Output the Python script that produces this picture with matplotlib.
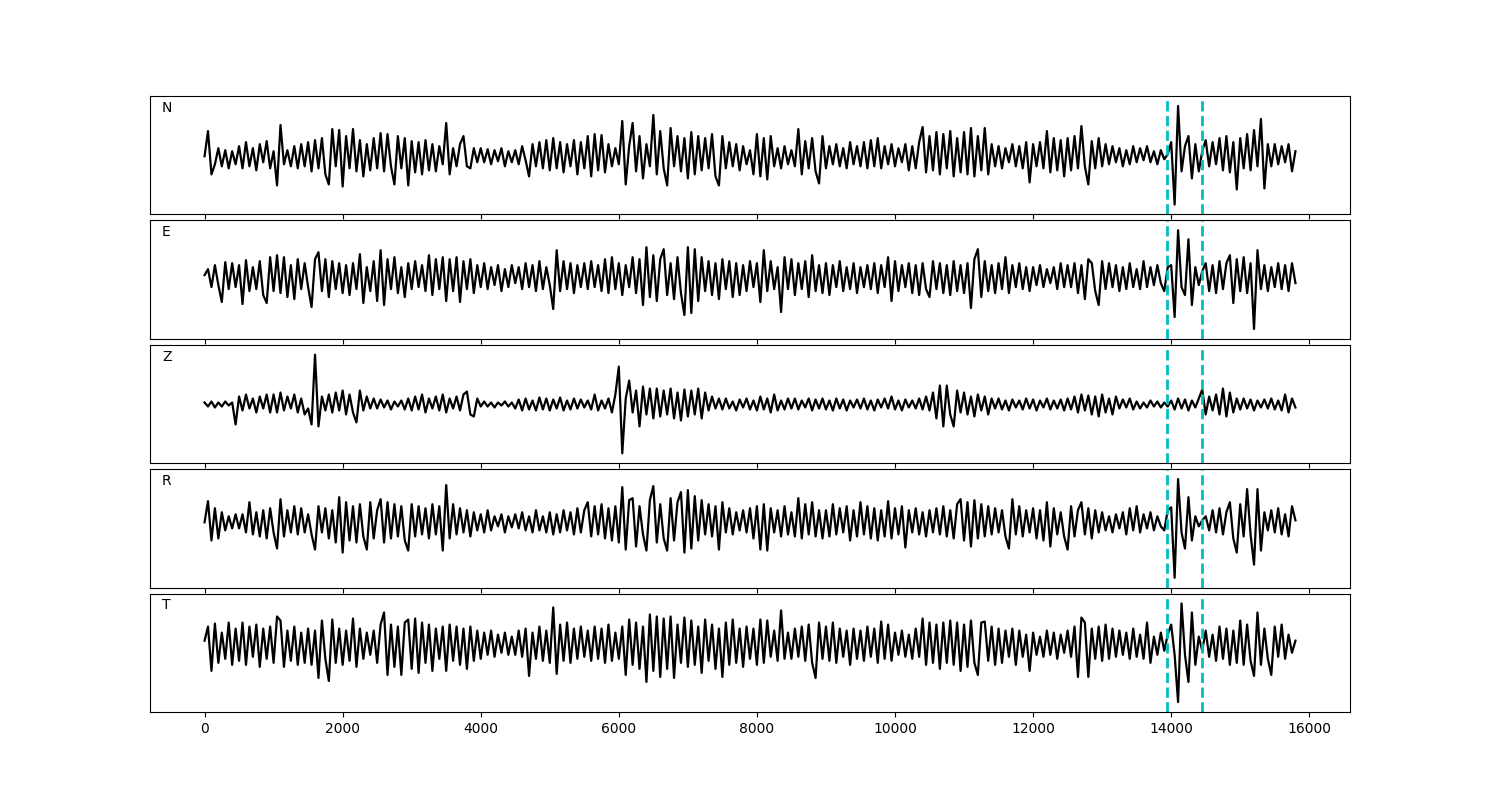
import numpy as np
import matplotlib
matplotlib.use("Agg")
import matplotlib.pyplot as plt

# sample spacing of the traces
dt = 50

# picked window (dashed lines)
picks = [13940, 14440]

labels = ["N", "E", "Z", "R", "T"]

n_vals = [
    0, 25, -18, -8, 8, -10, 6, -12, 5, -8,
    10, -12, 14, -10, 8, -14, 12, -6, 15, -12,
    5, -29, 31, -8, 6, -10, 10, -12, 12, -10,
    14, -15, 16, -12, 18, -18, -28, 27, -10, 26,
    -30, 20, -12, 27, -15, 16, -20, 12, -14, 18,
    -12, 23, -15, 22, -10, -28, 20, -12, 18, -29,
    15, -16, 14, -18, 16, -14, 12, -15, 10, -8,
    33, -18, 8, -10, 12, 20, -10, -12, 8, -6,
    8, -6, 7, -8, 6, -5, 8, -10, 5, -6,
    6, -8, 10, -4, -20, 12, -10, 14, -12, 16,
    -14, 18, -12, 14, -16, 12, -10, 16, -18, 14,
    -12, 20, -20, 22, -14, 21, -16, 12, -10, 8,
    -8, 35, -28, 10, 33, -15, 20, -22, 12, -10,
    41, -18, 25, -12, -29, 28, -10, 20, -15, 18,
    -22, 24, -18, 20, -14, 18, -12, 22, -20, -29,
    20, -12, 14, -10, 12, -14, 10, -8, 6, -18,
    22, -20, 18, -23, 20, -10, 8, -12, 10, -8,
    6, -10, 27, -18, 15, -12, 18, -15, -27, 20,
    -12, 10, -8, 12, -10, 8, -12, 14, -8, 10,
    -10, 14, -12, 16, -10, 18, -12, 10, -8, 12,
    -10, 8, -6, 12, -14, 10, -12, 14, 29, -16,
    20, -14, 24, -18, 22, -12, 25, -20, 18, -16,
    24, -18, 28, -20, 20, -14, 28, -18, 12, -10,
    10, -12, 8, -6, 12, -10, 10, -12, 14, -26,
    12, -10, 14, -12, 25, -16, 18, -14, 16, -20,
    18, -14, 20, -12, 30, -10, -28, 15, -12, 18,
    -10, 12, -8, 10, -6, 8, -10, 6, -8, 10,
    -6, 8, -4, 10, -6, 5, -8, 6, -3, 2,
    14, -48, 50, -15, 10, 20, -22, 12, -15, 5,
    16, -10, 14, -8, 18, -14, 20, -16, 14, -33,
    18, -12, 22, -14, 26, -10, 37, -32, 12, -10,
    12, -8, 10, -6, 12, -15, 5,
]

e_vals = [
    2, 8, -10, 12, -8, -25, 15, -12, 14, -10,
    12, -27, 17, -14, 10, -12, 16, -18, -26, 20,
    -14, 22, -16, 20, -20, 12, -22, 18, -12, 14,
    -10, -30, 18, 25, -14, 18, -20, 16, -12, 14,
    -16, 12, -18, 14, -12, 23, -26, 10, -14, 16,
    -24, 27, -28, 18, -12, 20, -16, 10, -20, 14,
    -12, 16, -10, 12, -14, 22, -18, 18, -12, 20,
    -24, 18, -14, 20, -25, 16, -12, 18, -16, 12,
    -10, 14, -12, 10, -8, 12, -14, 8, -10, 12,
    -6, 10, -12, 14, -10, 12, -14, 16, -12, 10,
    -8, -32, 27, -14, 16, -12, 14, -16, 12, -10,
    14, -12, 16, -10, 12, -14, 18, -16, 20, -12,
    14, -18, 12, -10, 20, -16, 18, -28, 30, -20,
    22, -24, 18, 28, -18, 14, -22, 20, -16, -38,
    30, -36, 28, -24, 20, -14, 16, -18, 14, -22,
    18, -12, 16, -20, 14, -18, 12, -14, 16, -10,
    14, -25, 27, -14, 16, -12, 10, -35, 20, -12,
    18, -18, 14, -12, 16, -20, 22, -14, 12, -16,
    14, -18, 12, -10, 16, -14, 10, -12, 14, -16,
    10, -10, 12, -12, 14, -16, 12, -10, 20, -24,
    16, -14, 12, -10, 14, -16, 12, -18, 14, -12,
    -20, 16, -12, 14, -16, 12, -18, 16, -14, 12,
    -16, 14, -31, 18, 28, -20, 16, -14, 12, -16,
    14, -12, 20, -16, 12, -10, 14, -12, 10, -14,
    10, -8, 12, -10, 8, -6, 10, -12, 14, -10,
    12, -10, 14, -16, 12, -22, 18, 14, -14, -28,
    16, -12, 14, -10, 12, -14, 10, -12, 14, -10,
    8, -12, 16, -10, 10, -8, 12, -6, -14, 10,
    12, -40, 47, -10, -18, 38, -28, 10, -8, 6,
    14, -14, 12, -16, 16, -12, 14, 22, -26, 18,
    -14, 20, -16, 14, -52, 27, -12, 12, -14, 10,
    -10, 14, -12, 12, -14, 14, -6,
]

z_vals = [
    2, -2, 3, -3, 2, -2, 3, -1, 2, -20,
    8, -6, 10, -4, 6, -8, 8, -4, 10, -8,
    10, -8, 12, -6, 8, -4, 10, -8, 6, -10,
    -4, -20, 50, -22, 8, -6, 10, -8, 12, -6,
    14, -10, 10, -8, -18, 14, -6, 8, -4, 6,
    -4, 5, -3, 4, -5, 3, -2, 4, -5, 6,
    -6, 8, -5, 10, -8, 6, -4, 8, -6, 10,
    -8, 6, -4, 8, -6, 10, 13, -10, -12, 6,
    -2, 3, -2, 2, -3, 2, -1, 3, -2, 2,
    -4, 5, -6, 6, -5, 4, -6, 7, -5, 6,
    -6, 5, -4, 7, -6, 4, -5, 6, -4, 5,
    -3, 4, -5, 10, -6, 4, -4, 6, -8, 10,
    38, -49, 6, 24, -8, 14, -22, 18, -10, 16,
    -14, 16, -12, 14, -10, 16, -14, 12, -16, 15,
    -12, 14, -10, 16, -14, 12, -6, 8, -4, 6,
    -5, 6, -4, 3, -6, 5, -3, 6, -5, 4,
    -6, 8, -5, 6, -8, 10, -6, 4, -5, 6,
    -4, 6, -5, 4, -3, 6, -6, 5, -4, 6,
    -5, 4, -6, 6, -4, 5, -6, 4, -3, 5,
    -4, 6, -5, 4, -6, 5, -3, 6, -4, 8,
    -5, 4, -6, 5, -3, 4, -4, 6, -5, 8,
    -6, 12, -14, 19, -22, 19, -10, -22, 14, -8,
    12, -10, 8, -12, 10, -6, 8, -10, 6, -4,
    6, -5, 4, -6, 5, -3, 4, -5, 6, -4,
    5, -6, 4, -3, 6, -5, 4, -4, 5, -6,
    6, -5, 8, -8, 10, -6, 9, -10, 8, -12,
    10, -8, 6, -10, 8, -4, 5, -3, 6, -5,
    3, -4, 2, -3, 4, -2, 3, -3, 2, -2,
    4, -5, 6, -4, 5, -6, 4, -3, 6, 15,
    -10, 8, -6, 10, -10, 16, -12, 12, -8, 6,
    -5, 6, -4, 5, -6, 4, -3, 5, -4, 6,
    -5, 4, -6, 10, -8, 6, -3,
]

r_vals = [
    0, 21, -18, 14, -16, 10, -8, 6, -6, 8,
    -6, 8, -10, 20, -12, 10, -14, 12, -16, 14,
    -10, -26, 23, -14, 12, -10, 16, -12, 14, -10,
    8, -12, -27, 16, -10, 14, -16, 12, -20, 25,
    -30, 20, -18, 16, -20, 18, -14, -27, 20, -16,
    12, 23, -20, 20, -16, 18, -14, 16, -18, -28,
    18, -14, 16, -12, 14, -16, 18, -12, 16, -28,
    37, -16, 18, -12, 14, -10, 12, -14, 10, -8,
    8, -10, 12, -8, 6, -4, 8, -10, 6, -5,
    8, -6, 10, -8, 6, -10, 12, -8, 6, -10,
    10, -12, 8, -10, 12, -8, 10, -12, 14, -10,
    12, 20, -14, 16, -12, 18, -16, 14, -18, 16,
    -20, 35, -27, 22, 24, -24, 16, -12, -28, 22,
    36, -20, 18, -16, -28, 24, -18, 20, 30, -30,
    32, -26, 26, -18, 22, -12, 18, -14, 16, -27,
    20, -10, 14, -12, 10, -8, 12, -10, 14, -16,
    16, -27, 18, -28, 14, -10, 12, -14, 16, -12,
    10, -14, 24, -16, 18, -12, 20, -14, 12, -16,
    12, -14, 18, -12, 14, -10, 16, -18, 12, -14,
    20, -12, 16, -16, 14, -18, 12, -14, 21, -16,
    14, -12, 16, -25, 12, -10, 14, -12, 10, -14,
    12, -10, 14, -12, 16, -14, 12, -16, 18, 23,
    -18, 20, -24, 22, -16, 18, -14, 16, -12, 14,
    -10, 12, -14, -26, 23, -12, 16, -14, 12, -10,
    14, -16, 12, -18, 20, -24, 14, -12, 10, -14,
    -27, 16, -14, 12, 20, -12, 14, -16, 12, -10,
    10, -8, 6, -10, 8, -6, 10, -12, 14, -8,
    16, -10, 8, -6, 10, -8, 6, -4, -8, 12,
    15, -55, 43, -10, -26, 25, -18, 6, -4, 2,
    6, -8, 12, -10, 14, -12, 10, 20, -16, -30,
    18, -14, 33, -12, -42, 33, -28, 10, -8, 12,
    -10, 14, -12, 8, -14, 16, 2,
]

t_vals = [
    4, 18, -26, 21, -18, 12, -14, 22, -20, 16,
    -16, 22, -20, 18, -12, 20, -22, 16, -14, 18,
    -18, 28, 24, -22, 14, -16, 18, -20, 12, -18,
    16, -20, 14, -33, 24, -14, -36, 25, -18, 16,
    -20, 14, -16, 26, -22, 16, -14, 12, -10, 14,
    -18, 20, 32, -30, 20, -22, 18, -30, 22, 25,
    -24, 26, -28, 22, -18, 20, -26, 16, -14, 18,
    -26, 20, -16, 18, -20, 16, -24, 18, -16, 14,
    -14, 12, -10, 14, -12, 10, -8, 12, -10, 8,
    -10, 14, -12, 16, -31, 12, -14, 18, -16, 14,
    -18, 37, -29, 20, -16, 22, -18, 16, -14, 18,
    -12, 14, -16, 18, -14, 16, -18, 20, -16, 12,
    -14, 18, -30, 25, -20, 22, -24, 18, -37, 30,
    -26, 28, -32, 26, -24, 28, -33, 20, -18, 27,
    -22, 24, -20, 18, -28, 25, -16, 20, -24, 16,
    -32, 22, -20, 25, -18, 16, -22, 18, -14, 16,
    -20, 25, -18, 24, -12, 14, -16, 34, -14, 12,
    -14, 16, -12, 18, -16, 20, -18, -33, 22, -14,
    18, -16, 22, -18, 16, -12, 14, -20, 16, -14,
    14, -16, 18, -12, 16, -18, 23, -14, 20, -16,
    12, -10, 14, -12, 10, -14, 16, -12, 26, -20,
    22, -18, 20, -24, 22, -18, 24, -20, 22, -26,
    20, -22, 24, -18, -30, 22, 23, -16, 18, -20,
    16, -18, 14, -12, 16, -20, 14, -12, 10, -26,
    12, -10, 8, -12, 14, -10, 12, -14, 10, -8,
    14, -12, 18, -32, 27, 22, -32, 16, -14, 18,
    -16, 20, -14, 16, -12, 14, -10, 12, -14, 16,
    -12, 10, -14, 22, -18, 8, -10, 12, -6, 10,
    20, -10, -57, 41, -10, -37, 32, -20, 8, -6,
    14, -12, 10, -16, 18, -14, 16, -20, 14, -18,
    24, -20, 20, -16, -31, 32, -20, 16, -14, -30,
    18, -12, 20, -14, 10, -8, 4,
]

traces = [n_vals, e_vals, z_vals, r_vals, t_vals]

fig, axes = plt.subplots(5, 1, sharex=True, figsize=(15, 8), dpi=100)
plt.subplots_adjust(left=0.1, right=0.9, hspace=0.05)

for ax, vals, lab in zip(axes, traces, labels):
    t = np.arange(len(vals)) * dt
    ax.plot(t, vals, color='black', linewidth=1.6)
    for p in picks:
        ax.axvline(p, color='c', linestyle='--', linewidth=2)
    ax.margins(y=0.1)
    ax.set_yticks([])
    ax.text(0.01, 0.9, lab, transform=ax.transAxes, va='center', ha='left')

plt.savefig('out.png')
